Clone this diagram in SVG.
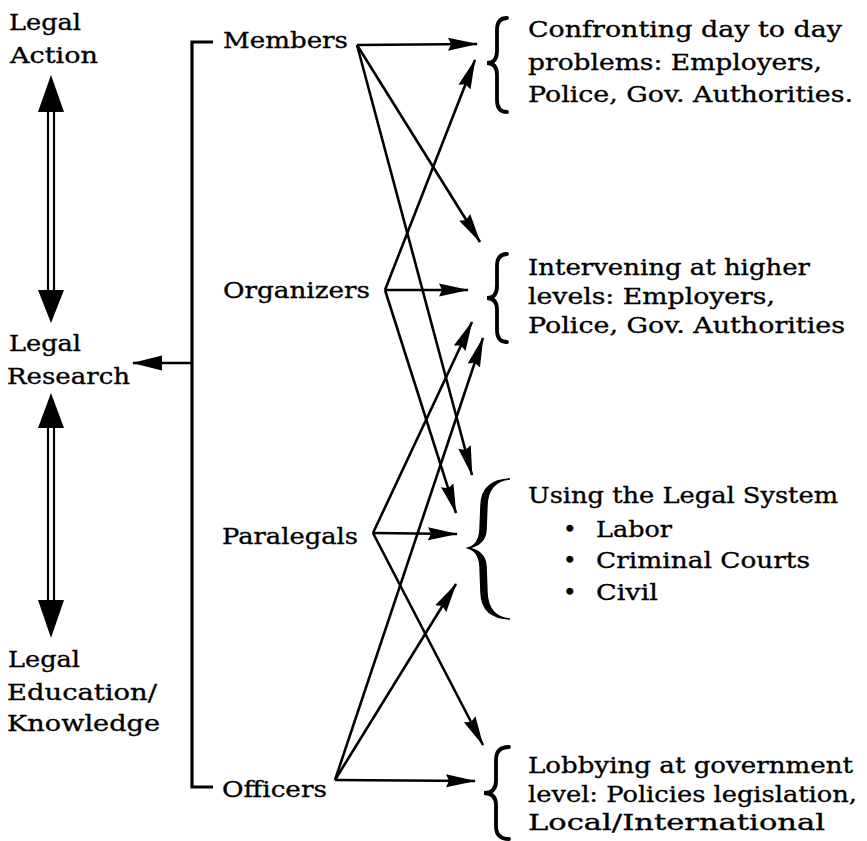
<svg xmlns="http://www.w3.org/2000/svg" width="867" height="841" viewBox="0 0 867 841">
<style>
text{font-family:"DejaVu Serif","Liberation Serif",serif;font-size:23px;fill:#000;stroke:#000;stroke-width:0.35}
.c{stroke:#000;stroke-width:2.6;fill:none;marker-end:url(#ah)}
.br{stroke:#000;stroke-width:3.8;fill:none;stroke-linecap:round}
.dl{stroke:#000;stroke-width:2.2}
.hd{fill:#000}
</style>
<defs>
<marker id="ah" markerUnits="userSpaceOnUse" markerWidth="31" markerHeight="14" viewBox="0 0 31 14" refX="29" refY="7" orient="auto"><path d="M0,0.5 L30,7 L0,13.5 L3,7 z" fill="#000"/></marker>
<marker id="ah2" markerUnits="userSpaceOnUse" markerWidth="31" markerHeight="16" viewBox="0 0 31 16" refX="29" refY="8" orient="auto"><path d="M0,0.5 L30,8 L0,15.5 z" fill="#000"/></marker>
</defs>
<rect width="867" height="841" fill="#fff"/>

<g id="legal-action"><text x="9" y="30" textLength="72" lengthAdjust="spacingAndGlyphs">Legal</text><text x="10" y="63" textLength="88" lengthAdjust="spacingAndGlyphs">Action</text></g>
<g id="legal-research"><text x="9" y="351" textLength="72" lengthAdjust="spacingAndGlyphs">Legal</text><text x="7" y="384" textLength="123" lengthAdjust="spacingAndGlyphs">Research</text></g>
<g id="legal-education"><text x="8" y="667" textLength="72" lengthAdjust="spacingAndGlyphs">Legal</text><text x="7" y="700" textLength="150" lengthAdjust="spacingAndGlyphs">Education/</text><text x="7" y="731" textLength="153" lengthAdjust="spacingAndGlyphs">Knowledge</text></g>

<g id="members"><text x="223" y="48" textLength="125" lengthAdjust="spacingAndGlyphs">Members</text></g>
<g id="organizers"><text x="223" y="298" textLength="147" lengthAdjust="spacingAndGlyphs">Organizers</text></g>
<g id="paralegals"><text x="222" y="544" textLength="136" lengthAdjust="spacingAndGlyphs">Paralegals</text></g>
<g id="officers"><text x="222" y="797" textLength="105" lengthAdjust="spacingAndGlyphs">Officers</text></g>

<g id="confronting">
<path class="br" d="M507,18 Q497,18 497,30 L497,51 Q497,63 487,63 Q497,63 497,75 L497,100 Q497,112 507,112"/>
<text x="528" y="37" textLength="314" lengthAdjust="spacingAndGlyphs">Confronting day to day</text>
<text x="528" y="70" textLength="294" lengthAdjust="spacingAndGlyphs">problems: Employers,</text>
<text x="528" y="102" textLength="325" lengthAdjust="spacingAndGlyphs">Police, Gov. Authorities.</text>
</g>
<g id="intervening">
<path class="br" d="M507,254 Q497,254 497,266 L497,286 Q497,298 487,298 Q497,298 497,310 L497,330 Q497,342 507,342"/>
<text x="528" y="275" textLength="282" lengthAdjust="spacingAndGlyphs">Intervening at higher</text>
<text x="528" y="304" textLength="247" lengthAdjust="spacingAndGlyphs">levels: Employers,</text>
<text x="528" y="333" textLength="317" lengthAdjust="spacingAndGlyphs">Police, Gov. Authorities</text>
</g>
<g id="legal-system">
<path d="M510,479 Q488,481 487,505 L486,530 Q485,545 468,548 Q485,551 486,566 L487,593 Q488,617 510,619 Q482,618 481,593 L480,566 Q479,551 468,548 Q479,545 480,530 L481,505 Q482,480 510,479 z" fill="#000" stroke="#000" stroke-width="1.5"/>
<text x="528" y="503" textLength="310" lengthAdjust="spacingAndGlyphs">Using the Legal System</text>
<text x="563" y="537">•</text><text x="596" y="537" textLength="76" lengthAdjust="spacingAndGlyphs">Labor</text>
<text x="563" y="568">•</text><text x="596" y="568" textLength="214" lengthAdjust="spacingAndGlyphs">Criminal Courts</text>
<text x="563" y="600">•</text><text x="596" y="600" textLength="62" lengthAdjust="spacingAndGlyphs">Civil</text>
</g>
<g id="lobbying">
<path class="br" d="M509,747 Q496,747 496,760 L496,781 Q496,793 484,793 Q496,793 496,805 L496,826 Q496,839 509,839"/>
<text x="528" y="773" textLength="325" lengthAdjust="spacingAndGlyphs">Lobbying at government</text>
<text x="528" y="802" textLength="329" lengthAdjust="spacingAndGlyphs">level: Policies legislation,</text>
<text x="528" y="830" textLength="297" lengthAdjust="spacingAndGlyphs">Local/International</text>
</g>

<g id="connectors">
<line class="dl" x1="48" y1="110" x2="48" y2="292"/><line class="dl" x1="54" y1="110" x2="54" y2="292"/>
<polygon class="hd" points="51,75 64,112 38,112"/><polygon class="hd" points="51,323 64,290 38,290"/>
<line class="dl" x1="48" y1="426" x2="48" y2="602"/><line class="dl" x1="54" y1="426" x2="54" y2="602"/>
<polygon class="hd" points="51,393 64,428 38,428"/><polygon class="hd" points="51,638 64,600 38,600"/>
<path d="M213,42 H192 V787 H213" stroke="#000" stroke-width="3.2" fill="none"/>
<line x1="192" y1="363" x2="133" y2="363" stroke="#000" stroke-width="2.6" marker-end="url(#ah2)"/>
<line class="c" x1="357" y1="45" x2="477" y2="44"/>
<line class="c" x1="357" y1="45" x2="480" y2="242"/>
<line class="c" x1="357" y1="45" x2="472" y2="475"/>
<line class="c" x1="385" y1="290" x2="475" y2="60"/>
<line class="c" x1="385" y1="290" x2="468" y2="290"/>
<line class="c" x1="385" y1="290" x2="456" y2="513"/>
<line class="c" x1="373" y1="533" x2="472" y2="322"/>
<line class="c" x1="373" y1="533" x2="457" y2="534"/>
<line class="c" x1="373" y1="533" x2="483" y2="745"/>
<line class="c" x1="335" y1="780" x2="483" y2="338"/>
<line class="c" x1="335" y1="780" x2="456" y2="584"/>
<line class="c" x1="335" y1="780" x2="475" y2="781"/>
</g>
</svg>
